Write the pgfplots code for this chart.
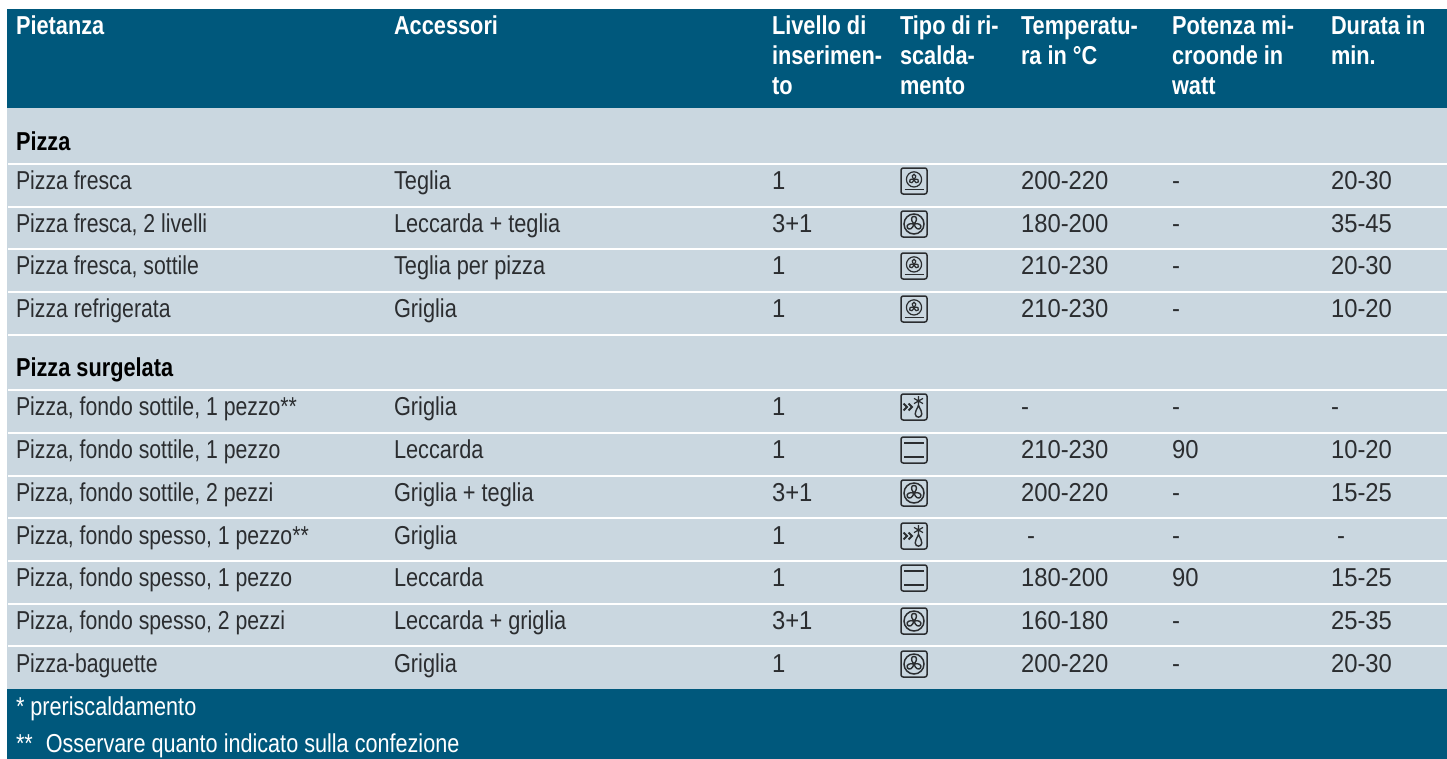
\documentclass[border=0pt]{standalone}
\usepackage{fontspec}
\setmainfont[FakeStretch=0.84]{Liberation Sans}
\newfontfamily\numfont[FakeStretch=0.92]{Liberation Sans}
\newfontfamily\namefont[FakeStretch=0.82]{Liberation Sans}
\newfontfamily\footfont[FakeStretch=0.835]{Liberation Sans}
\usepackage{pgfplots}
\pgfplotsset{compat=1.18}
\definecolor{hd}{HTML}{00587C}
\definecolor{lt}{HTML}{CAD7E0}
\definecolor{tx}{HTML}{2B2D30}
\newcommand{\icbox}{\draw[line width=1.5bp,rounded corners=2.2bp,tx] (-13,-13) rectangle (13,13);}
\tikzset{ic/.style={shift={(axis cs:914,#1)},x=1bp,y=1bp,tx}}
\newcommand{\fansmall}[1]{\begin{scope}[ic=#1]\icbox
 \draw[line width=1.2bp] (0,1.6) circle (7.6);
 \draw[line width=1.4bp] (-9.5,-8.2) -- (9.5,-8.2);
 \begin{scope}[shift={(0,1.6)},scale=.85]
 \draw[line width=1.2bp] (0,0) .. controls (-3,3) and (-2.5,6) .. (0,6) .. controls (2.5,6) and (3,3) .. (0,0);
 \draw[line width=1.2bp,rotate=120] (0,0) .. controls (-3,3) and (-2.5,6) .. (0,6) .. controls (2.5,6) and (3,3) .. (0,0);
 \draw[line width=1.2bp,rotate=240] (0,0) .. controls (-3,3) and (-2.5,6) .. (0,6) .. controls (2.5,6) and (3,3) .. (0,0);
 \end{scope}
 \end{scope}}
\newcommand{\fanbig}[1]{\begin{scope}[ic=#1]\icbox
 \draw[line width=1.5bp] (0,0) circle (10);
 \draw[line width=1.4bp] (0,0) .. controls (-3.6,3.6) and (-3,7.6) .. (0,7.6) .. controls (3,7.6) and (3.6,3.6) .. (0,0);
 \draw[line width=1.4bp,rotate=120] (0,0) .. controls (-3.6,3.6) and (-3,7.6) .. (0,7.6) .. controls (3,7.6) and (3.6,3.6) .. (0,0);
 \draw[line width=1.4bp,rotate=240] (0,0) .. controls (-3.6,3.6) and (-3,7.6) .. (0,7.6) .. controls (3,7.6) and (3.6,3.6) .. (0,0);
 \end{scope}}
\newcommand{\heat}[1]{\begin{scope}[ic=#1]\icbox
 \draw[line width=1.4bp] (-10,7) -- (10,7);
 \draw[line width=1.4bp] (-10,-7) -- (10,-7);
 \end{scope}}
\newcommand{\defrost}[1]{\begin{scope}[ic=#1]\icbox
 \draw[line width=1.9bp] (-10.5,3.4) -- (-7,0) -- (-10.5,-3.4);
 \draw[line width=1.9bp] (-5.5,3.4) -- (-2,0) -- (-5.5,-3.4);
 \draw[line width=1.2bp] (4.5,11) -- (4.5,1) (0,8.6) -- (9,3.4) (0,3.4) -- (9,8.6);
 \draw[line width=1.4bp] (4.5,1.5) .. controls (2.5,-3) and (1,-4.5) .. (1.2,-7) .. controls (1.5,-11.2) and (7.5,-11.2) .. (7.8,-7) .. controls (8,-4.5) and (6.5,-3) .. (4.5,1.5);
 \end{scope}}
\begin{document}
\begin{tikzpicture}
\begin{axis}[
 scale only axis, width=1447bp, height=758bp,
 xmin=0,xmax=1447,ymin=0,ymax=758,y dir=reverse,
 hide axis,
 every node near coord/.style={anchor=base west,inner sep=0pt,outer sep=0pt},
 point meta=explicit symbolic,
 lab/.style={draw=none,mark=none,only marks,mark size=0pt,nodes near coords,
   nodes near coords align={anchor=base west}},
]
\addplot[fill=white,draw=none] coordinates {(0,0)(1447,0)(1447,758)(0,758)};
\addplot[fill=hd,draw=none] coordinates {(7,9)(1450,9)(1450,108)(7,108)};
\addplot[fill=lt,draw=none] coordinates {(7,108)(1450,108)(1450,689)(7,689)};
\addplot[fill=hd,draw=none] coordinates {(7,689)(1450,689)(1450,761)(7,761)};
\addplot[white,line width=2bp] coordinates {(8,164)(1450,164)};
\addplot[white,line width=2bp] coordinates {(8,207)(1450,207)};
\addplot[white,line width=2bp] coordinates {(8,249)(1450,249)};
\addplot[white,line width=2bp] coordinates {(8,292)(1450,292)};
\addplot[white,line width=2bp] coordinates {(8,335)(1450,335)};
\addplot[white,line width=2bp] coordinates {(8,390)(1450,390)};
\addplot[white,line width=2bp] coordinates {(8,433)(1450,433)};
\addplot[white,line width=2bp] coordinates {(8,476)(1450,476)};
\addplot[white,line width=2bp] coordinates {(8,518)(1450,518)};
\addplot[white,line width=2bp] coordinates {(8,561)(1450,561)};
\addplot[white,line width=2bp] coordinates {(8,604)(1450,604)};
\addplot[white,line width=2bp] coordinates {(8,646)(1450,646)};
% header
\addplot[lab,nodes near coords style={text=white,font=\fontsize{26}{30}\selectfont\bfseries}] table[x=x,y=y,meta=t,col sep=semicolon] {
x;y;t
16;35;Pietanza
394;35;Accessori
772;35;Livello di
772;65;inserimen-
772;94;to
900;35;Tipo di ri-
900;65;scalda-
900;94;mento
1021;35;Temperatu-
1021;65;ra in °C
1172;35;Potenza mi-
1172;65;croonde in
1172;94;watt
1331;35;Durata in
1331;65;min.
};
% groups
\addplot[lab,nodes near coords style={text=black,font=\fontsize{26}{30}\selectfont\bfseries}] table[x=x,y=y,meta=t,col sep=semicolon] {
x;y;t
16;150;Pizza
16;376;Pizza surgelata
};
% body: names
\addplot[lab,nodes near coords style={text=tx,font=\fontsize{26}{30}\selectfont\namefont}] table[x=x,y=y,meta=t,col sep=semicolon] {
x;y;t
16;189;Pizza fresca
16;232;{Pizza fresca, 2 livelli}
16;274;{Pizza fresca, sottile}
16;317;Pizza refrigerata
16;415;{Pizza, fondo sottile, 1 pezzo**}
16;458;{Pizza, fondo sottile, 1 pezzo}
16;501;{Pizza, fondo sottile, 2 pezzi}
16;544;{Pizza, fondo spesso, 1 pezzo**}
16;586;{Pizza, fondo spesso, 1 pezzo}
16;629;{Pizza, fondo spesso, 2 pezzi}
16;672;Pizza-baguette
};
% body: accessories
\addplot[lab,nodes near coords style={text=tx,font=\fontsize{26}{30}\selectfont}] table[x=x,y=y,meta=t,col sep=semicolon] {
x;y;t
394;189;Teglia
394;232;Leccarda + teglia
394;274;Teglia per pizza
394;317;Griglia
394;415;Griglia
394;458;Leccarda
394;501;Griglia + teglia
394;544;Griglia
394;586;Leccarda
394;629;Leccarda + griglia
394;672;Griglia
};
% body: numbers
\addplot[lab,nodes near coords style={text=tx,font=\fontsize{26}{30}\selectfont\numfont}] table[x=x,y=y,meta=t,col sep=semicolon] {
x;y;t
772;189;1
1021;189;200-220
1172;189;-
1331;189;20-30
772;232;3+1
1021;232;180-200
1172;232;-
1331;232;35-45
772;274;1
1021;274;210-230
1172;274;-
1331;274;20-30
772;317;1
1021;317;210-230
1172;317;-
1331;317;10-20
772;415;1
1021;415;-
1172;415;-
1331;415;-
772;458;1
1021;458;210-230
1172;458;90
1331;458;10-20
772;501;3+1
1021;501;200-220
1172;501;-
1331;501;15-25
772;544;1
1027;544;-
1172;544;-
1337;544;-
772;586;1
1021;586;180-200
1172;586;90
1331;586;15-25
772;629;3+1
1021;629;160-180
1172;629;-
1331;629;25-35
772;672;1
1021;672;200-220
1172;672;-
1331;672;20-30
};
% footer
\addplot[lab,nodes near coords style={text=white,font=\fontsize{26}{30}\selectfont\footfont}] table[x=x,y=y,meta=t,col sep=semicolon] {
x;y;t
16;715;* preriscaldamento
16;752;{**\hspace{7bp} Osservare quanto indicato sulla confezione}
};
\fansmall{181}
\fanbig{224}
\fansmall{266}
\fansmall{309}
\defrost{407}
\heat{450}
\fanbig{493}
\defrost{536}
\heat{578}
\fanbig{621}
\fanbig{664}
\end{axis}
\end{tikzpicture}
\end{document}
